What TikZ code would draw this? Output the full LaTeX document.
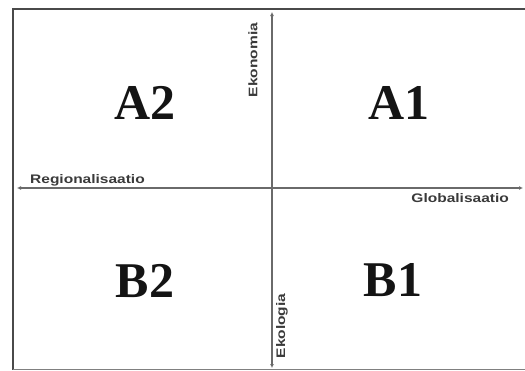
\documentclass[tikz,border=0pt]{standalone}
\usepackage{fontspec}
\setmainfont{Liberation Serif}
\setsansfont{Liberation Sans}
\usetikzlibrary{arrows.meta}
\definecolor{framec}{HTML}{4A4A4A}
\definecolor{axisc}{HTML}{6A6A6A}
\definecolor{labc}{HTML}{3A3A3A}
\tikzset{
  bigq/.style={font=\fontsize{50}{50}\selectfont\bfseries, text=black!92, inner sep=0pt},
  axlab/.style={font=\sffamily\bfseries\fontsize{12.4}{13}\selectfont, text=labc, inner sep=0pt},
  axisline/.style={draw=axisc, line width=1.3pt, {Latex[length=4pt,width=4pt]}-{Latex[length=4pt,width=4pt]}},
  framel/.style={draw=framec, line width=2.6pt},
}
\newcommand{\widetxt}[1]{\scalebox{1.25}[1]{#1}}
\begin{document}
\begin{tikzpicture}[x=1pt,y=-1pt]
\useasboundingbox (0,0) rectangle (525,370);
\fill[white] (0,0) rectangle (525,370);
% frame
\coordinate (tl) at (13,9);
\coordinate (tr) at (525,9);
\coordinate (bl) at (13,370);
\coordinate (bl2) at (13,369);
\coordinate (br) at (525,369);
\draw[framel] (tr) -- (tl) -- (bl);
\draw[draw=framec!70, line width=1pt] (bl2) -- (br);
% axes
\coordinate (vt) at (272,12);
\coordinate (vb) at (272,368);
\coordinate (hl) at (17,188);
\coordinate (hr) at (523,188);
\draw[axisline] (vb) -- (vt);
\draw[axisline] (hl) -- (hr);
% axis labels
\node[axlab, rotate=90] (eko) at (253,60) {\widetxt{Ekonomia}};
\node[axlab, rotate=90] (ekol) at (282,326) {\widetxt{Ekologia}};
\node[axlab, anchor=west] (reg) at (30,180) {\widetxt{Regionalisaatio}};
\node[axlab, anchor=east] (glob) at (509,198) {\widetxt{Globalisaatio}};
% quadrant labels
\node[bigq] (a2) at (145,103) {A2};
\node[bigq] (a1) at (399,103) {A1};
\node[bigq] (b2) at (145,281) {B2};
\node[bigq] (b1) at (393,280) {B1};
\end{tikzpicture}
\end{document}
